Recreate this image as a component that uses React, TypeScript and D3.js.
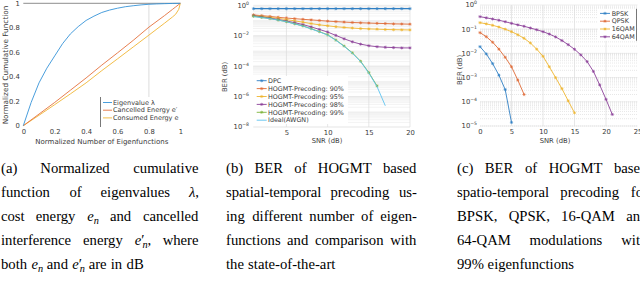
import React, { useRef, useEffect } from 'react';
import * as d3 from 'd3';

// (a) normalized cumulative functions
const eigFrac = [0, 0.05, 0.1, 0.15, 0.2, 0.25, 0.3, 0.35, 0.4, 0.45, 0.5, 0.55, 0.6, 0.65, 0.7, 0.75, 0.8, 0.85, 0.9, 0.95, 1];
const eigenvalueCum = [0, 0.19, 0.35, 0.47, 0.57, 0.67, 0.75, 0.81, 0.86, 0.895, 0.925, 0.945, 0.96, 0.972, 0.98, 0.987, 0.992, 0.995, 0.997, 0.999, 1];
const energyFrac = [0, 0.1, 0.2, 0.3, 0.4, 0.5, 0.6, 0.7, 0.8, 0.9, 0.95, 0.97, 0.99, 1];
const cancelledCum = [0, 0.095, 0.19, 0.29, 0.39, 0.495, 0.595, 0.697, 0.805, 0.9, 0.95, 0.97, 0.99, 1];
const consumedCum = [0, 0.085, 0.172, 0.26, 0.35, 0.45, 0.546, 0.643, 0.74, 0.838, 0.888, 0.91, 0.95, 1];
const ticksA = [0, 0.2, 0.4, 0.6, 0.8, 1];
const legendA = ['Eigenvalue λ', 'Cancelled Energy e′', 'Consumed Energy e'];

// (b) BER vs SNR, number of eigenfunctions
const snrB = [1, 2, 3, 4, 5, 6, 7, 8, 9, 10, 11, 12, 13, 14, 15, 16, 17, 18, 19, 20];
const berDPC = [0.6, 0.6, 0.6, 0.6, 0.6, 0.6, 0.6, 0.6, 0.6, 0.6, 0.6, 0.6, 0.6, 0.6, 0.6, 0.6, 0.6, 0.6, 0.6, 0.6];
const ber90 = [0.234, 0.209, 0.186, 0.162, 0.145, 0.132, 0.12, 0.11, 0.1, 0.091, 0.085, 0.079, 0.074, 0.071, 0.068, 0.065, 0.063, 0.06, 0.059, 0.0575];
const ber95 = [0.219, 0.19, 0.162, 0.138, 0.115, 0.095, 0.078, 0.063, 0.052, 0.045, 0.039, 0.035, 0.032, 0.0295, 0.028, 0.027, 0.0257, 0.025, 0.0245, 0.024];
const ber98 = [0.209, 0.174, 0.145, 0.117, 0.093, 0.072, 0.054, 0.038, 0.026, 0.0174, 0.0105, 0.0063, 0.004, 0.0028, 0.0022, 0.0019, 0.00174, 0.00166, 0.00158, 0.00158];
const ber99 = [0.19, 0.16, 0.135, 0.108, 0.084, 0.061, 0.044, 0.029, 0.0185, 0.0115, 0.0052, 0.0021, 7.5e-4, 2.1e-4, 3.8e-5, 5e-6];
const berIdeal = [0.18, 0.155, 0.132, 0.106, 0.083, 0.06, 0.043, 0.028, 0.018, 0.011, 0.005, 0.002, 7.1e-4, 2.0e-4, 3.5e-5, 4.5e-6, 2.5e-7];
const ticksBx = [5, 10, 15, 20];
const expBy = [0, -2, -4, -6, -8];
const legendB = ['DPC', 'HOGMT-Precoding: 90%', 'HOGMT-Precoding: 95%', 'HOGMT-Precoding: 98%', 'HOGMT-Precoding: 99%', 'Ideal(AWGN)'];

// (c) BER vs SNR, modulations
const snrC = [0, 1, 2, 3, 4, 5, 6, 7, 8, 9, 10, 11, 12, 13, 14, 15, 16, 17, 18, 19, 20, 21];
const berBPSK = [0.019, 0.0095, 0.0038, 0.00126, 3.2e-4, 1.4e-5];
const berQPSK = [0.072, 0.049, 0.029, 0.015, 0.0069, 0.0028, 7.9e-4, 2.0e-4];
const ber16QAM = [0.186, 0.166, 0.145, 0.123, 0.1, 0.079, 0.059, 0.042, 0.027, 0.015, 0.0076, 0.0028, 0.001, 3.5e-4, 1.1e-4, 3.5e-5];
const ber64QAM = [0.33, 0.295, 0.263, 0.234, 0.204, 0.174, 0.151, 0.132, 0.112, 0.095, 0.079, 0.063, 0.048, 0.034, 0.023, 0.0148, 0.0087, 0.0046, 0.0018, 5.0e-4, 1.26e-4, 3.0e-5];
const ticksCx = [0, 5, 10, 15, 20, 25];
const expCy = [0, -1, -2, -3, -4, -5];
const legendC = ['BPSK', 'QPSK', '16QAM', '64QAM'];

// captions
type Seg = { t: string; it?: boolean; sub?: boolean; dx?: number };
type Word = string | Seg[];
const eN: Seg[] = [{ t: 'e', it: true }, { t: 'n', it: true, sub: true }];
const eNp: Seg[] = [{ t: 'e', it: true }, { t: '′' }, { t: 'n', it: true, sub: true, dx: -2.2 }];
const captionA: Word[][] = [
  ['(a)', 'Normalized', 'cumulative'],
  ['function', 'of', 'eigenvalues', [{ t: 'λ', it: true }, { t: ',' }]],
  ['cost', 'energy', eN, 'and', 'cancelled'],
  ['interference', 'energy', [...eNp, { t: ',' }], 'where'],
  ['both', eN, 'and', eNp, 'are', 'in', 'dB'],
];
const captionB: Word[][] = [
  ['(b)', 'BER', 'of', 'HOGMT', 'based'],
  ['spatial-temporal', 'precoding', 'us-'],
  ['ing', 'different', 'number', 'of', 'eigen-'],
  ['functions', 'and', 'comparison', 'with'],
  ['the', 'state-of-the-art'],
];
const captionC: Word[][] = [
  ['(c)', 'BER', 'of', 'HOGMT', 'based'],
  ['spatio-temporal', 'precoding', 'for'],
  ['BPSK,', 'QPSK,', '16-QAM', 'and'],
  ['64-QAM', 'modulations', 'with'],
  ['99%', 'eigenfunctions'],
];

const SANS = 'DejaVu Sans, sans-serif';
const SERIF = 'Liberation Serif, Times New Roman, serif';
const INK = '#3a3a3a';
const C = {
  blue: '#2f7fc4', orange: '#df6a35', yellow: '#efb52f', purple: '#8b3f99', green: '#7db43a', light: '#5cc3ef',
  aBlue: '#3593d8', aOrange: '#e4703c', aYellow: '#f0b533',
};

type G = d3.Selection<SVGGElement, unknown, null, undefined>;
type S = d3.Selection<SVGSVGElement, unknown, null, undefined>;

function star(g: G, cx: number, cy: number, color: string, r = 1.6) {
  const k = r * 0.7;
  g.append('path')
    .attr('d', `M${cx - r},${cy}H${cx + r}M${cx},${cy - r}V${cy + r}M${cx - k},${cy - k}L${cx + k},${cy + k}M${cx - k},${cy + k}L${cx + k},${cy - k}`)
    .attr('stroke', color).attr('stroke-width', 0.6).attr('fill', 'none');
}

function series(g: G, xs: number[], ys: number[], x: any, y: any, color: string, width: number, marks: boolean) {
  const pts = ys.map((v, i) => [x(xs[i]), y(v)] as [number, number]);
  g.append('path').attr('d', d3.line()(pts)).attr('fill', 'none').attr('stroke', color).attr('stroke-width', width);
  if (marks) pts.forEach(p => star(g, p[0], p[1], color));
}

function powLabel(g: G, px: number, py: number, e: number) {
  const t = g.append('text').attr('x', px).attr('y', py + 2.4).attr('text-anchor', 'end')
    .attr('font-family', SANS).attr('font-size', 6.8).attr('fill', INK);
  t.append('tspan').text('10');
  t.append('tspan').attr('dy', -3).attr('font-size', 4.6).text(e === 0 ? '0' : '−' + Math.abs(e));
}

function axisText(g: G, txt: string, cx: number, cy: number, rotate = false, fs = 6.8) {
  g.append('text').attr('transform', `translate(${cx},${cy})${rotate ? ' rotate(-90)' : ''}`)
    .attr('text-anchor', 'middle').attr('font-family', SANS).attr('font-size', fs).attr('fill', INK).text(txt);
}

function styleAxis(a: G) {
  a.select('.domain').remove();
  a.selectAll('text').attr('font-family', SANS).attr('font-size', 6.8).attr('fill', INK);
}

function logGrid(g: G, x: any, y: any, lo: number, hi: number, majors: number[]) {
  const [x0, x1] = x.range();
  for (let e = lo; e < hi; e++) {
    for (let m = 1; m < 10; m++) {
      const v = m * Math.pow(10, e);
      g.append('line').attr('x1', x0).attr('x2', x1).attr('y1', y(v)).attr('y2', y(v))
        .attr('stroke', '#d6d6d6').attr('stroke-width', 0.6).attr('stroke-dasharray', '1,1');
    }
  }
  majors.forEach(e => {
    g.append('line').attr('x1', x0).attr('x2', x1).attr('y1', y(Math.pow(10, e))).attr('y2', y(Math.pow(10, e)))
      .attr('stroke', '#e0e0e0').attr('stroke-width', 0.6);
  });
}

function drawA(svg: S) {
  const g = svg.append('g');
  const x = d3.scaleLinear().domain([0, 1]).range([23.3, 180.3]);
  const y = d3.scaleLinear().domain([0, 1]).range([125.7, 3.3]);

  g.append('line').attr('x1', x(0.8)).attr('x2', x(0.8)).attr('y1', y(1)).attr('y2', y(0) + 2)
    .attr('stroke', '#d4d4d4').attr('stroke-width', 0.8);
  g.append('line').attr('x1', x(0)).attr('x2', x(1)).attr('y1', y(1)).attr('y2', y(1))
    .attr('stroke', '#707070').attr('stroke-width', 0.8);

  g.append('g').attr('transform', `translate(0,${y(0)})`)
    .call(d3.axisBottom(x).tickValues(ticksA).tickFormat(d3.format('~g') as any).tickSize(0).tickPadding(3.2))
    .call(styleAxis);
  g.append('g').attr('transform', `translate(${x(0)},0)`)
    .call(d3.axisLeft(y).tickValues(ticksA).tickFormat(d3.format('~g') as any).tickSize(0).tickPadding(3.5))
    .call(styleAxis);

  series(g, energyFrac, consumedCum, x, y, C.aYellow, 0.9, false);
  series(g, energyFrac, cancelledCum, x, y, C.aOrange, 0.9, false);
  series(g, eigFrac, eigenvalueCum, x, y, C.aBlue, 0.9, false);

  axisText(g, 'Normalized Number of Eigenfunctions', 101.8, 144.3, false, 7);
  axisText(g, 'Normalized Cumulative Function', 7.8, 65, true, 7.3);

  const lg = g.append('g');
  lg.append('rect').attr('x', 100.5).attr('y', 97).attr('width', 80).attr('height', 30).attr('fill', '#fff');
  lg.append('line').attr('x1', 100.5).attr('x2', 100.5).attr('y1', 97).attr('y2', 127).attr('stroke', '#555').attr('stroke-width', 0.8);
  [C.aBlue, C.aOrange, C.aYellow].forEach((col, i) => {
    const ly = 102.5 + i * 7.7;
    lg.append('line').attr('x1', 103).attr('x2', 112).attr('y1', ly).attr('y2', ly).attr('stroke', col).attr('stroke-width', 0.9);
    lg.append('text').attr('x', 113).attr('y', ly + 2.2).attr('font-family', SANS).attr('font-size', 6.5).attr('fill', INK).text(legendA[i]);
  });
}

function drawB(svg: S) {
  const g = svg.append('g');
  const x = d3.scaleLinear().domain([1, 20]).range([253.5, 410]);
  const y = d3.scaleLog().domain([1e-8, 1]).range([127, 5.3]);

  logGrid(g, x, y, -8, 0, expBy);
  ticksBx.forEach(t => {
    g.append('line').attr('x1', x(t)).attr('x2', x(t)).attr('y1', y(1)).attr('y2', y(1e-8))
      .attr('stroke', '#dcdcdc').attr('stroke-width', 0.7);
  });
  g.append('g').attr('transform', `translate(0,${y(1e-8)})`)
    .call(d3.axisBottom(x).tickValues(ticksBx).tickFormat(d3.format('d') as any).tickSize(0).tickPadding(3))
    .call(styleAxis);
  expBy.forEach(e => powLabel(g, 249, y(Math.pow(10, e)), e));

  series(g, snrB, berDPC, x, y, C.blue, 1.3, true);
  series(g, snrB, ber90, x, y, C.orange, 0.9, true);
  series(g, snrB, ber95, x, y, C.yellow, 0.9, true);
  series(g, snrB, ber98, x, y, C.purple, 0.9, true);
  series(g, snrB, ber99, x, y, C.green, 0.9, true);
  series(g, snrB, berIdeal, x, y, C.light, 0.9, false);

  axisText(g, 'SNR (dB)', 327, 142.5);
  axisText(g, 'BER (dB)', 227, 77, true);

  const lg = g.append('g');
  lg.append('rect').attr('x', 253).attr('y', 76).attr('width', 95).attr('height', 48).attr('fill', '#fff');
  [C.blue, C.orange, C.yellow, C.purple, C.green, C.light].forEach((col, i) => {
    const ly = 80.7 + i * 7.9;
    lg.append('line').attr('x1', 256.7).attr('x2', 266.7).attr('y1', ly).attr('y2', ly).attr('stroke', col).attr('stroke-width', 0.9);
    if (i < 5) star(lg as any, 261.7, ly, col);
    lg.append('text').attr('x', 268).attr('y', ly + 2.2).attr('font-family', SANS).attr('font-size', 6.4).attr('fill', INK).text(legendB[i]);
  });
}

function drawC(svg: S) {
  const g = svg.append('g');
  const x = d3.scaleLinear().domain([0, 25]).range([480, 637.5]);
  const y = d3.scaleLog().domain([1e-5, 1]).range([126, 5]);

  logGrid(g, x, y, -5, 0, expCy);
  ticksCx.slice(1, 5).forEach(t => {
    g.append('line').attr('x1', x(t)).attr('x2', x(t)).attr('y1', y(1)).attr('y2', y(1e-5))
      .attr('stroke', '#dcdcdc').attr('stroke-width', 0.7);
  });
  g.append('g').attr('transform', `translate(0,${y(1e-5)})`)
    .call(d3.axisBottom(x).tickValues(ticksCx).tickFormat(d3.format('d') as any).tickSize(0).tickPadding(3))
    .call(styleAxis);
  expCy.forEach(e => powLabel(g, 477, y(Math.pow(10, e)), e));

  series(g, snrC, berBPSK, x, y, C.blue, 0.9, true);
  series(g, snrC, berQPSK, x, y, C.orange, 0.9, true);
  series(g, snrC, ber16QAM, x, y, C.yellow, 0.9, true);
  series(g, snrC, ber64QAM, x, y, C.purple, 0.9, true);

  axisText(g, 'SNR (dB)', 555, 142.5);
  axisText(g, 'BER (dB)', 461.5, 70, true);

  const lg = g.append('g');
  lg.append('rect').attr('x', 598).attr('y', 8.8).attr('width', 38.5).attr('height', 32).attr('fill', '#fff');
  lg.append('line').attr('x1', 636.5).attr('x2', 636.5).attr('y1', 8.8).attr('y2', 40.8).attr('stroke', '#555').attr('stroke-width', 0.8);
  [C.blue, C.orange, C.yellow, C.purple].forEach((col, i) => {
    const ly = 13.4 + i * 7.8;
    lg.append('line').attr('x1', 600).attr('x2', 610).attr('y1', ly).attr('y2', ly).attr('stroke', col).attr('stroke-width', 0.9);
    star(lg as any, 605, ly, col);
    lg.append('text').attr('x', 611.7).attr('y', ly + 2.2).attr('font-family', SANS).attr('font-size', 6.4).attr('fill', INK).text(legendC[i]);
  });
}

function drawCaption(svg: S, lines: Word[][], x0: number, x1: number) {
  const fs = 14.7;
  const g = svg.append('g');
  lines.forEach((words, li) => {
    const base = 172.5 + li * 24;
    const nodes = words.map(w => {
      const t = g.append('text').attr('font-family', SERIF).attr('font-size', fs).attr('fill', '#000');
      const segs: Seg[] = typeof w === 'string' ? [{ t: w }] : w;
      let shift = 0;
      segs.forEach(s => {
        const ts = t.append('tspan').text(s.t);
        if (s.it) ts.attr('font-style', 'italic');
        const target = s.sub ? 3.2 : 0;
        if (target !== shift) { ts.attr('dy', target - shift); shift = target; }
        if (s.sub) ts.attr('font-size', fs * 0.7);
        if (s.dx) ts.attr('dx', s.dx);
      });
      const bb = (t.node() as SVGTextElement).getBBox();
      return { t, w: bb.x + bb.width };
    });
    const total = d3.sum(nodes, n => n.w);
    const last = li === lines.length - 1;
    const gap = last || nodes.length < 2 ? fs * 0.25 : (x1 - x0 - total) / (nodes.length - 1);
    let pos = x0;
    nodes.forEach(n => {
      n.t.attr('transform', `translate(${pos},${base})`);
      pos += n.w + gap;
    });
  });
}

export default function App() {
  const svgRef = useRef<SVGSVGElement>(null);

  useEffect(() => {
    document.body.style.margin = '0';
    const svg = d3.select(svgRef.current as SVGSVGElement);
    svg.selectAll('*').remove();
    svg.append('rect').attr('width', 640).attr('height', 283).attr('fill', '#fff');
    drawA(svg);
    drawB(svg);
    drawC(svg);
    drawCaption(svg, captionA, 1, 199);
    drawCaption(svg, captionB, 226, 417);
    drawCaption(svg, captionC, 457, 648);
  }, []);

  return <svg ref={svgRef} width={640} height={283} style={{ display: 'block' }} />;
}
